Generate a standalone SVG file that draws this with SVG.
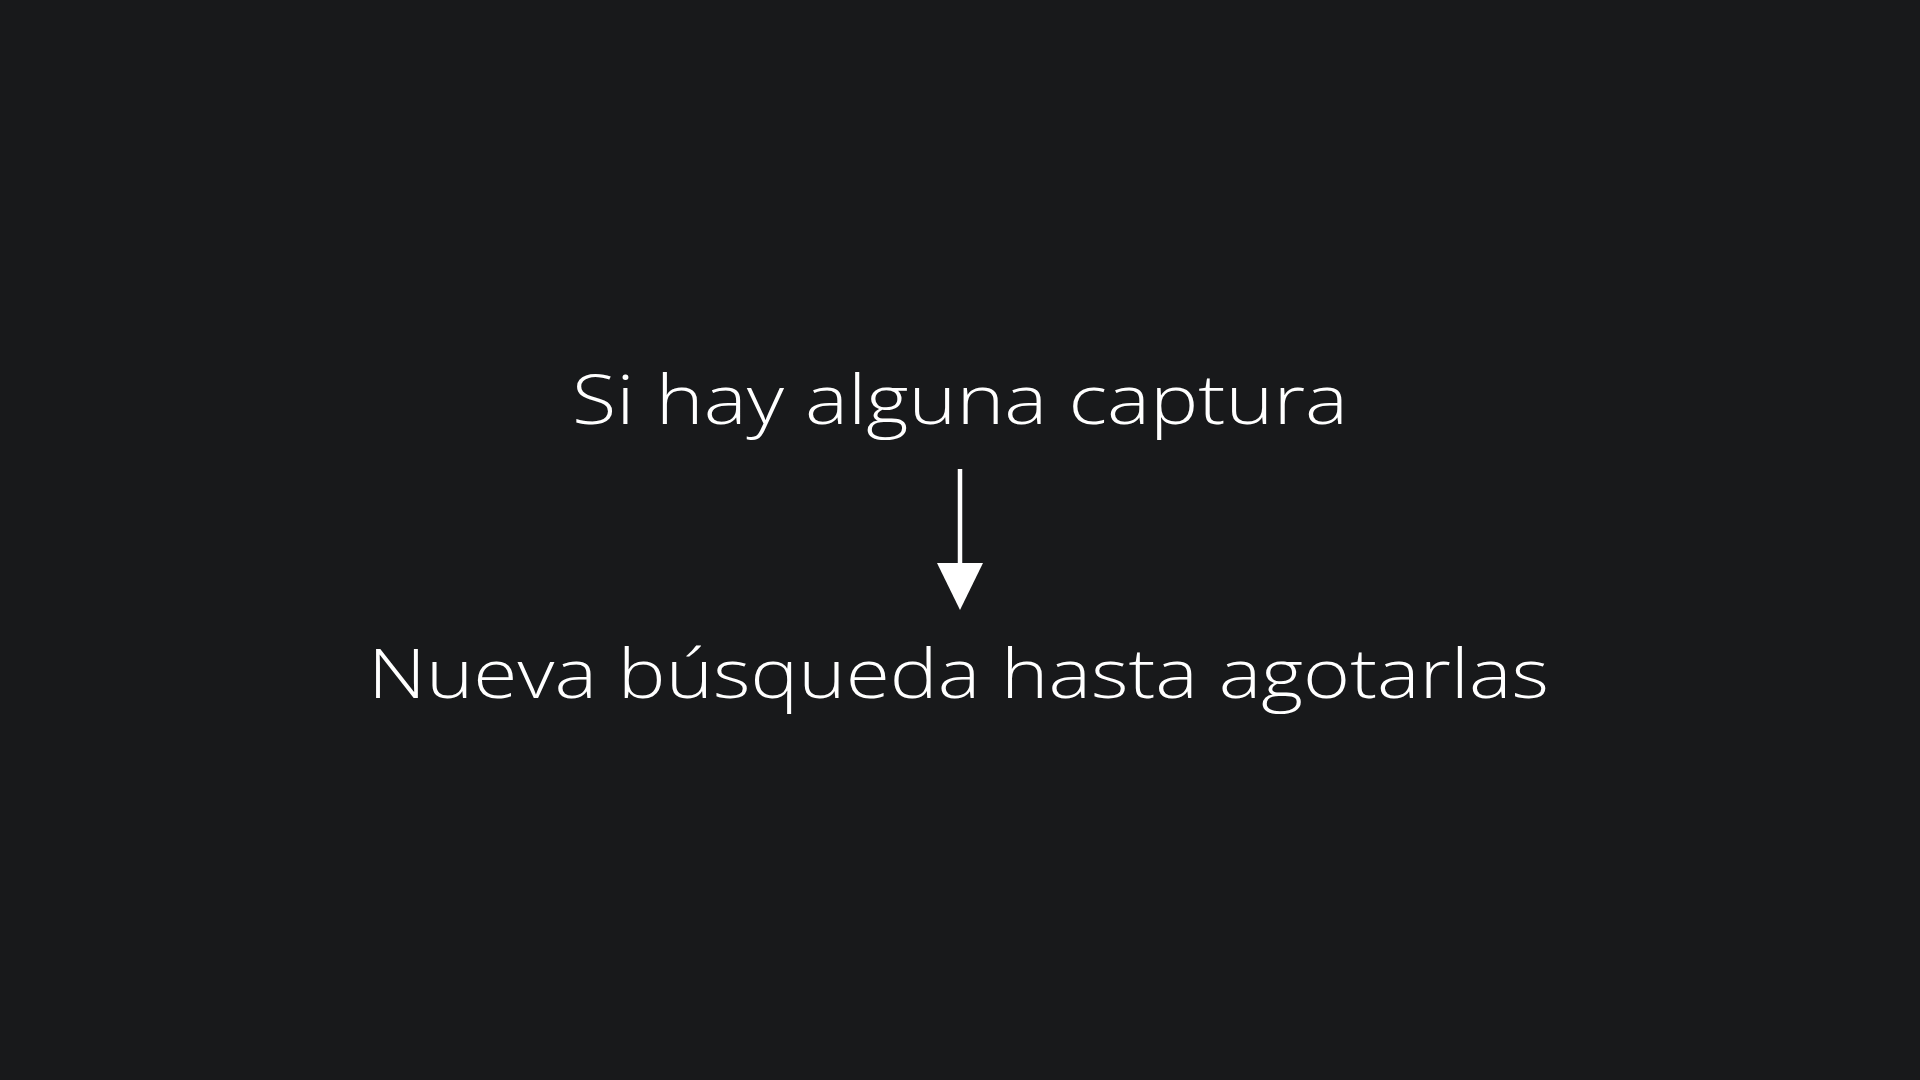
<svg xmlns="http://www.w3.org/2000/svg" width="1920" height="1080" viewBox="0 0 1920 1080">
<style>
.t{font-family:"Open Sans","Lato","Noto Sans","Liberation Sans",sans-serif;font-weight:300;font-size:68px;fill:#ffffff}
</style>
<rect width="1920" height="1080" fill="#18191b"/>
<g id="node-top"><text class="t" x="572" y="424" textLength="776" lengthAdjust="spacingAndGlyphs">Si hay alguna captura</text></g>
<g id="node-bottom"><text class="t" x="368" y="698" textLength="1181" lengthAdjust="spacingAndGlyphs">Nueva búsqueda hasta agotarlas</text></g>
<g id="connectors">
<line x1="960" y1="469" x2="960" y2="565" stroke="#ffffff" stroke-width="4.5"/>
<path d="M937,563 L983,563 L960,610 Z" fill="#ffffff"/>
</g>
</svg>
